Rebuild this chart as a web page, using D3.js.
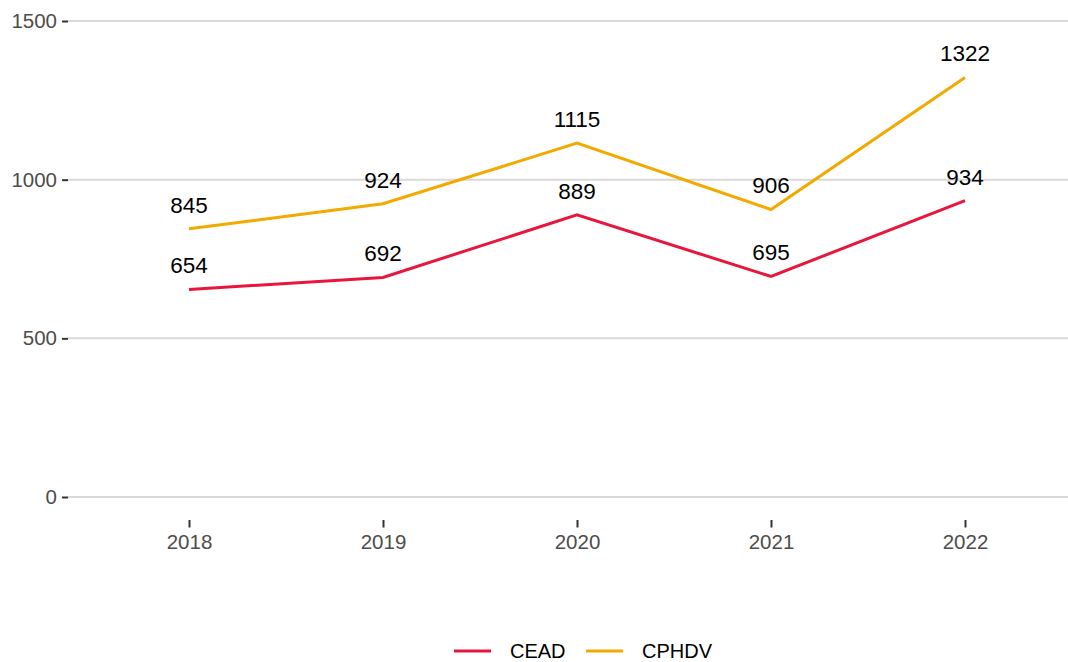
<!DOCTYPE html>
<html>
<head>
<meta charset="utf-8">
<script src="https://cdn.jsdelivr.net/npm/d3@7"></script>
<style>
  body { margin: 0; background: #fff; }
  text { font-family: "Liberation Sans", Arial, sans-serif; }
</style>
</head>
<body>
<div id="chart"></div>
<script>
var years = ["2018", "2019", "2020", "2021", "2022"];
var seriesNames = ["CEAD", "CPHDV"];
var cead = [654, 692, 889, 695, 934];
var cphdv = [845, 924, 1115, 906, 1322];
var yTicks = [0, 500, 1000, 1500];
var colors = ["#e8163c", "#f2a900"];

var W = 1068, H = 662;
var svg = d3.select("#chart").append("svg").attr("width", W).attr("height", H);

var x = d3.scalePoint().domain(years).range([189, 965]);
var y = d3.scaleLinear().domain([0, 1500]).range([497, 21]);

// grid
svg.append("g").selectAll("line").data(yTicks).enter().append("line")
   .attr("x1", 68).attr("x2", W)
   .attr("y1", d => y(d)).attr("y2", d => y(d))
   .style("stroke", "#d9d9d9").style("stroke-width", 2);

// y axis
var yAxis = svg.append("g").attr("transform", "translate(68,0)")
   .call(d3.axisLeft(y).tickValues(yTicks).tickSize(6).tickPadding(5).tickFormat(d3.format("d")));
yAxis.select(".domain").remove();
yAxis.selectAll("line").style("stroke", "#333").style("stroke-width", 2);
yAxis.selectAll("text").style("font-size", "20.5px").style("fill", "#4d4d4d")
     .style("font-family", "Liberation Sans, Arial, sans-serif");

// x axis
var xAxis = svg.append("g").attr("transform", "translate(0,520)")
   .call(d3.axisBottom(x).tickSize(7.5).tickPadding(7));
xAxis.select(".domain").remove();
xAxis.selectAll("line").style("stroke", "#333").style("stroke-width", 2);
xAxis.selectAll("text").style("font-size", "20.5px").style("fill", "#4d4d4d")
     .style("font-family", "Liberation Sans, Arial, sans-serif");

var series = [cead, cphdv];
var line = d3.line().x((d, i) => x(years[i])).y(d => y(d));

series.forEach(function(vals, s) {
  svg.append("path").datum(vals).attr("d", line)
     .style("fill", "none").style("stroke", colors[s]).style("stroke-width", 3);
  svg.append("g").selectAll("text").data(vals).enter().append("text")
     .attr("x", (d, i) => x(years[i]))
     .attr("y", d => y(d) - 16)
     .attr("text-anchor", "middle")
     .style("font-size", "22.5px").style("fill", "#000")
     .text(d => d);
});

// legend
var legend = svg.append("g");
var legX = [454, 586];
seriesNames.forEach(function(n, s) {
  legend.append("line").attr("x1", legX[s]).attr("x2", legX[s] + 37)
        .attr("y1", 651).attr("y2", 651)
        .style("stroke", colors[s]).style("stroke-width", 3);
  legend.append("text").attr("x", legX[s] + 56).attr("y", 657.5)
        .style("font-size", "20px").style("fill", "#000").text(n);
});
</script>
</body>
</html>
